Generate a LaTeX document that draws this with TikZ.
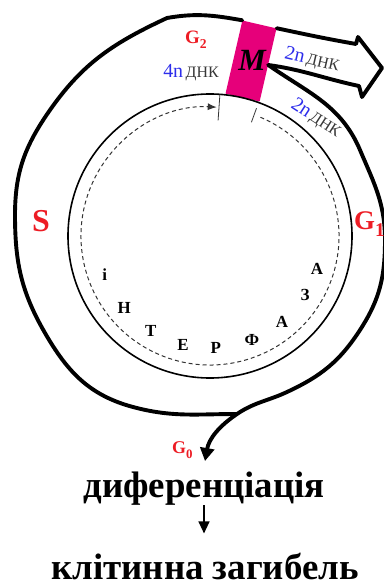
\documentclass[tikz,border=0pt]{standalone}
\usepackage{fontspec}
\setmainfont{Liberation Serif}
\usepackage{graphicx}
\usetikzlibrary{arrows.meta}

\definecolor{phasered}{RGB}{237,28,36}
\definecolor{dnablue}{RGB}{45,45,235}
\definecolor{dnagray}{RGB}{55,55,55}
\definecolor{mpink}{RGB}{230,0,122}

\newcommand{\fs}[1]{\fontsize{#1}{#1}\selectfont}
\newcommand{\lowidx}[1]{\raisebox{-0.28em}{\scalebox{0.72}{#1}}}
\newcommand{\dnalbl}[1]{{\color{dnablue}\fs{20}#1n} {\color{dnagray}\fs{16}ДНК}}

\begin{document}
\begin{tikzpicture}[
  x=1bp, y=1bp,
  outerline/.style = {line width=3.9bp, line join=round, line cap=round},
  innerring/.style = {line width=1.6bp},
  cycarrow/.style  = {line width=1bp, black!80, dash pattern=on 4bp off 3bp,
                      -{Latex[length=9bp,width=7bp]}},
  tickln/.style    = {line width=0.8bp, black!80},
  mbox/.style      = {fill=mpink, minimum width=35bp, minimum height=75bp,
                      rotate=-13, inner sep=0pt},
  mlbl/.style      = {font=\fs{31}\bfseries\itshape, inner sep=0pt},
  phase/.style     = {text=phasered, inner sep=0pt},
  dna/.style       = {inner sep=0pt},
  letter/.style    = {font=\fs{17}\bfseries, inner sep=0pt},
  bigtxt/.style    = {font=\fs{37}\bfseries, inner sep=0pt},
  arr/.style       = {-{Triangle[length=12bp,width=11bp]}, line width=1.3bp},
]
\useasboundingbox (0,0) rectangle (383,-582);

%%═══════════════════════════════════════════════════════════
%% M phase box
%%═══════════════════════════════════════════════════════════

\node[mbox] (mbox) at (251,-61) {};
\node[mlbl] (mtxt) at (252,-60) {M};

%%═══════════════════════════════════════════════════════════
%% Interphase ring
%%═══════════════════════════════════════════════════════════

\begin{scope}[shift={(210,-236)}]
  \draw[innerring] (0,0) circle[radius=142];
  \draw[cycarrow] (67:129) arc[start angle=67, end angle=-273, radius=129];
  \draw[tickln] (86:142) -- (86:116);
  \draw[tickln] (70:136) -- (70:121);
  \foreach \ang/\ch [count=\k] in
      {200/і,220/Н,238/Т,256/Е,273/Р,292/Ф,310/А,328/З,343/А}
    \node[letter] (ltr\k) at (\ang:112) {\ch};
\end{scope}

%%═══════════════════════════════════════════════════════════
%% Outer loop, exit arrow and G0 branch
%%═══════════════════════════════════════════════════════════

\coordinate (gzero) at (205,-461);

\draw[outerline] (mbox.north west) to[out=170,in=10] (167,-18)
  to[out=205,in=55] (50,-110)
  to[out=235,in=90] (15,-215)
  to[out=270,in=120] (45,-333)
  to[out=300,in=165] (133,-407)
  to[out=345,in=180] (237,-414);

\draw[outerline, -{Triangle[length=13bp,width=14bp]}]
  (mbox.north east) to[out=-12,in=170] (356,-44)
  -- (358,-37) -- (382,-68) -- (362,-97) -- (359,-86)
  to[out=168,in=-8] (mbox.east)
  to[out=-35,in=113] (360,-150)
  to[out=-67,in=90] (385,-240)
  to[out=-90,in=57] (360,-330)
  to[out=237,in=25] (287,-392)
  to[out=205,in=34] (237,-414)
  to[out=214,in=80] (gzero);

%%═══════════════════════════════════════════════════════════
%% Phase labels
%%═══════════════════════════════════════════════════════════

\node[phase, font=\fs{19}\bfseries] (gtwo) at (196,-40) {G\lowidx{2}};
\node[phase, font=\fs{32}\bfseries] (sph)  at (41,-221) {S};
\node[phase, font=\fs{27}\bfseries, anchor=west] (gone) at (354,-224) {G\lowidx{1}};
\node[phase, font=\fs{18}\bfseries, anchor=west] (gnull) at (172,-450) {G\lowidx{0}};

\node[dna] (dnafour) at (191,-73) {\dnalbl{4}};
\node[dna, rotate=-13] (dnaout) at (312,-60) {\dnalbl{2}};
\node[dna, rotate=-33] (dnain)  at (316,-118) {\dnalbl{2}};

%%═══════════════════════════════════════════════════════════
%% Outcome
%%═══════════════════════════════════════════════════════════

\node[bigtxt, anchor=base] (diff)  at (204,-497) {диференціація};
\node[bigtxt, anchor=base] (death) at (205,-579) {клітинна загибель};

\draw[arr, shorten >=19bp] (diff.south) -- (diff.south |- death.north);

\end{tikzpicture}
\end{document}
